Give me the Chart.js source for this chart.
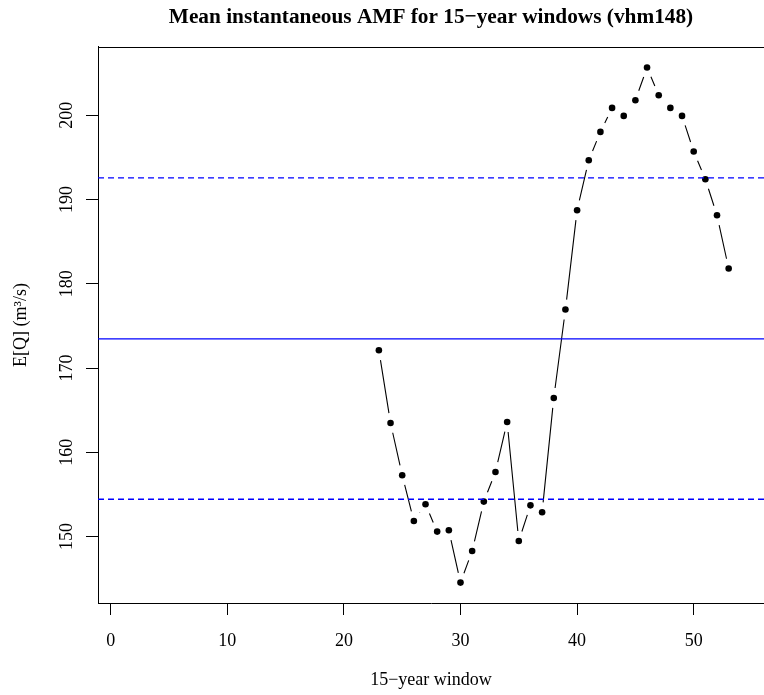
<!DOCTYPE html>
<html><head><meta charset="utf-8">
<script src="https://cdn.jsdelivr.net/npm/chart.js@4/dist/chart.umd.min.js"></script>
<style>html,body{margin:0;padding:0;background:#fff;}canvas{display:block;}</style>
</head><body>
<canvas id="c" width="764" height="695"></canvas>
<script>
// ---- data ----
const windows = [23,24,25,26,27,28,29,30,31,32,33,34,35,36,37,38,39,40,41,42,43,44,45,46,47,48,49,50,51,52,53];
const meanAMF = [172.11,163.48,157.28,151.85,153.83,150.59,150.75,144.54,148.29,154.15,157.67,163.60,149.48,153.71,152.88,166.45,176.94,188.73,194.66,198.02,200.87,199.92,201.78,205.66,202.37,200.87,199.92,195.69,192.40,188.13,181.81];
const overallMean = 173.45;
const upperBand = 192.56;
const lowerBand = 154.43;
const xTicks = [0,10,20,30,40,50];
const yTicks = [150,160,170,180,190,200];
const xRange = [-1.09, 56.03];
const yRange = [142.12, 208.1];
const titleText = 'Mean instantaneous AMF for 15\u2212year windows (vhm148)';
const xTitle = '15\u2212year window';
const yTitle = 'E[Q] (m\u00b3/s)';

const serif = '"Liberation Serif", "Times New Roman", serif';

function hline(v, dash) {
  return {
    data: [{x: xRange[0], y: v}, {x: xRange[1], y: v}],
    showLine: true, borderColor: '#0000ff', borderWidth: 1.3,
    borderDash: dash, pointRadius: 0, order: 0
  };
}

// R "type = b" style: segments between points with a gap around each point
const gappedLine = {
  id: 'gappedLine',
  beforeDatasetsDraw(chart) {
    const meta = chart.getDatasetMeta(0);
    const pts = meta.data;
    const gap = 10;
    const ctx = chart.ctx;
    ctx.save();
    ctx.beginPath();
    const a = chart.chartArea;
    ctx.rect(a.left, a.top, a.right - a.left, a.bottom - a.top);
    ctx.clip();
    ctx.strokeStyle = '#000';
    ctx.lineWidth = 1.1;
    ctx.beginPath();
    for (let i = 0; i < pts.length - 1; i++) {
      const p = pts[i], q = pts[i + 1];
      const dx = q.x - p.x, dy = q.y - p.y;
      const len = Math.hypot(dx, dy);
      if (len <= 2 * gap) continue;
      const ux = dx / len, uy = dy / len;
      ctx.moveTo(p.x + ux * gap, p.y + uy * gap);
      ctx.lineTo(q.x - ux * gap, q.y - uy * gap);
    }
    ctx.stroke();
    ctx.restore();
  }
};

// top side of the plot box
const boxTop = {
  id: 'boxTop',
  afterDraw(chart) {
    const a = chart.chartArea;
    const ctx = chart.ctx;
    ctx.save();
    ctx.strokeStyle = '#000';
    ctx.lineWidth = 1;
    ctx.beginPath();
    ctx.moveTo(a.left, Math.round(a.top) + 0.5);
    ctx.lineTo(a.right, Math.round(a.top) + 0.5);
    ctx.stroke();
    ctx.restore();
  }
};

new Chart(document.getElementById('c'), {
  type: 'scatter',
  data: {
    datasets: [
      {
        data: windows.map((w, i) => ({x: w, y: meanAMF[i]})),
        showLine: false, pointRadius: 3.3, pointBackgroundColor: '#000',
        pointBorderWidth: 0, borderColor: '#000', order: 1
      },
      hline(overallMean, []),
      hline(upperBand, [6, 4]),
      hline(lowerBand, [6, 4])
    ]
  },
  plugins: [gappedLine, boxTop],
  options: {
    responsive: false,
    animation: false,
    devicePixelRatio: 1,
    events: [],
    layout: {padding: 0, autoPadding: false},
    plugins: {
      legend: {display: false},
      tooltip: {enabled: false},
      title: {
        display: true, text: titleText, color: '#000', fullSize: false,
        font: {family: serif, size: 21.3, weight: 'bold'},
        padding: {top: 4.8, bottom: 16.6}
      }
    },
    scales: {
      x: {
        type: 'linear', min: xRange[0], max: xRange[1],
        afterBuildTicks: s => { s.ticks = xTicks.map(v => ({value: v})); },
        afterFit: s => { s.height = 92; s.paddingLeft = 0; s.paddingRight = 0; },
        grid: {drawOnChartArea: false, color: '#000', tickLength: 12, tickWidth: 1},
        border: {display: true, color: '#000', width: 1},
        ticks: {color: '#000', font: {family: serif, size: 18}, padding: 15.5, maxRotation: 0, autoSkip: false},
        title: {display: true, text: xTitle, color: '#000', font: {family: serif, size: 18}, padding: {top: 0, bottom: 3.8}}
      },
      y: {
        type: 'linear', min: yRange[0], max: yRange[1],
        afterBuildTicks: s => { s.ticks = yTicks.map(v => ({value: v})); },
        afterFit: s => { s.width = 98; s.paddingTop = 0; s.paddingBottom = 0; },
        grid: {drawOnChartArea: false, color: '#000', tickLength: 12, tickWidth: 1},
        border: {display: true, color: '#000', width: 1},
        ticks: {color: '#000', font: {family: serif, size: 18}, padding: 5.5, minRotation: 90, maxRotation: 90, crossAlign: 'center', autoSkip: false},
        title: {display: true, text: yTitle, color: '#000', font: {family: serif, size: 18}, padding: {top: 10.2, bottom: 0}}
      }
    }
  }
});
</script>
</body></html>
